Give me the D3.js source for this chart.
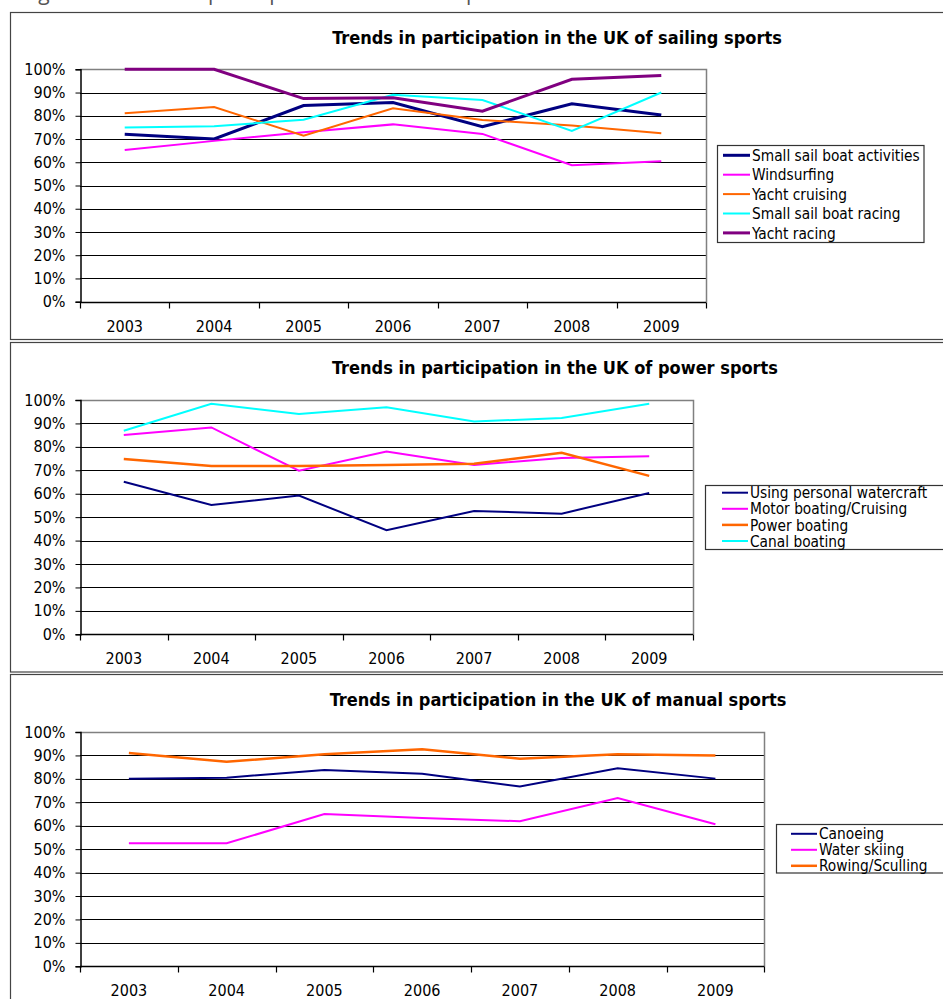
<!DOCTYPE html>
<html>
<head>
<meta charset="utf-8">
<script src="https://cdn.jsdelivr.net/npm/d3@7"></script>
<style>
  html, body { margin: 0; padding: 0; background: #fff; }
  svg { display: block; }
  text { font-family: 'DejaVu Sans Condensed', 'DejaVu Sans', sans-serif; font-stretch: condensed; fill: #000; }
</style>
</head>
<body>
<svg id="chart" width="943" height="999"></svg>
<script>
// ---------------- DATA ----------------
const years = ["2003", "2004", "2005", "2006", "2007", "2008", "2009"];
const yTickValues = [0, 10, 20, 30, 40, 50, 60, 70, 80, 90, 100];
const figureCaption = "Figure 4: Trends in participation in UK water sports 2003 - 2009";

// Sailing sports
const sailingTitle = "Trends in participation in the UK of sailing sports";
const sailingNames = ["Small sail boat activities", "Windsurfing", "Yacht cruising", "Small sail boat racing", "Yacht racing"];
const smallSailBoatActivities = [72.0, 70.0, 84.4, 85.7, 75.3, 85.2, 80.3];
const windsurfing            = [65.3, 69.2, 72.9, 76.3, 72.2, 58.7, 60.4];
const yachtCruising          = [81.1, 83.8, 71.4, 83.2, 78.2, 75.8, 72.5];
const smallSailBoatRacing    = [75.0, 75.5, 78.3, 89.0, 86.8, 73.5, 90.0];
const yachtRacing            = [100, 100, 87.4, 87.8, 82.0, 95.7, 97.3];

// Power sports
const powerTitle = "Trends in participation in the UK of power sports";
const powerNames = ["Using personal watercraft", "Motor boating/Cruising", "Power boating", "Canal boating"];
const personalWatercraft = [65.1, 55.2, 59.2, 44.4, 52.6, 51.5, 60.3];
const motorBoating       = [85.1, 88.3, 69.8, 78.0, 72.3, 75.2, 76.0];
const powerBoating       = [74.8, 71.8, 71.8, 72.3, 72.8, 77.5, 67.6];
const canalBoating       = [86.9, 98.4, 94.0, 96.9, 90.8, 92.3, 98.4];

// Manual sports
const manualTitle = "Trends in participation in the UK of manual sports";
const manualNames = ["Canoeing", "Water skiing", "Rowing/Sculling"];
const canoeing     = [80.1, 80.5, 83.8, 82.2, 76.7, 84.5, 80.1];
const waterSkiing  = [52.5, 52.5, 65.0, 63.3, 61.9, 71.8, 60.6];
const rowing       = [91.0, 87.3, 90.5, 92.6, 88.6, 90.5, 90.0];

// ---------------- STYLE / LAYOUT ----------------
const NAVY = "#000080", MAGENTA = "#FF00FF", ORANGE = "#FF6600", CYAN = "#00FFFF", PURPLE = "#800080";

const panels = [
  {
    title: sailingTitle, names: sailingNames,
    values: [smallSailBoatActivities, windsurfing, yachtCruising, smallSailBoatRacing, yachtRacing],
    colors: [NAVY, MAGENTA, ORANGE, CYAN, PURPLE],
    widths: [3, 2, 2, 2, 3],
    frame: {x: 10.5, y: 12.5, h: 327},
    plot: {x0: 80, x1: 706, top: 69.3, bottom: 301.7},
    titleX: 557, titleY: 43.5,
    legend: {x: 717.5, y: 145.5, w: 206.5, h: 97, first: 155.3, step: 19.4, lx0: 723, lx1: 750, tx: 752}
  },
  {
    title: powerTitle, names: powerNames,
    values: [personalWatercraft, motorBoating, powerBoating, canalBoating],
    colors: [NAVY, MAGENTA, ORANGE, CYAN],
    widths: [2, 2, 2.5, 2],
    frame: {x: 10.5, y: 342.5, h: 329.5},
    plot: {x0: 80, x1: 693, top: 400, bottom: 634.3},
    titleX: 555, titleY: 373.5,
    legend: {x: 705.5, y: 485.5, w: 260, h: 64, first: 492.7, step: 16.1, lx0: 722, lx1: 748, tx: 750}
  },
  {
    title: manualTitle, names: manualNames,
    values: [canoeing, waterSkiing, rowing],
    colors: [NAVY, MAGENTA, ORANGE],
    widths: [2, 2, 2.5],
    frame: {x: 10.5, y: 674.5, h: 340},
    plot: {x0: 80, x1: 764.3, top: 732, bottom: 966.3},
    titleX: 558, titleY: 706,
    legend: {x: 776.5, y: 824.5, w: 200, h: 48.5, first: 833.8, step: 16, lx0: 791, lx1: 817, tx: 819}
  }
];

const svg = d3.select("#chart");

// caption (cut off at the top edge, as in the reference)
svg.append("text")
  .attr("x", 22).attr("y", 0)
  .style("font-family", "'Open Sans', sans-serif")
  .style("font-stretch", "normal")
  .style("font-size", "21px")
  .style("fill", "#555")
  .text(figureCaption);

panels.forEach(p => {
  const g = svg.append("g");

  // outer frame
  g.append("rect")
    .attr("x", p.frame.x).attr("y", p.frame.y)
    .attr("width", 960).attr("height", p.frame.h)
    .attr("fill", "#fff").attr("stroke", "#444").attr("stroke-width", 1.2);

  const x = d3.scaleBand().domain(years).range([p.plot.x0, p.plot.x1]).padding(0);
  const y = d3.scaleLinear().domain([0, 100]).range([p.plot.bottom, p.plot.top]);

  // horizontal gridlines
  g.append("g").selectAll("line").data(yTickValues.filter(v => v > 0 && v < 100)).join("line")
    .attr("x1", p.plot.x0).attr("x2", p.plot.x1)
    .attr("y1", d => Math.round(y(d)) + 0.5).attr("y2", d => Math.round(y(d)) + 0.5)
    .attr("stroke", "#000").attr("stroke-width", 1);

  // top & right plot border (gray)
  g.append("path")
    .attr("d", `M${p.plot.x0},${Math.round(y(100)) + 0.5}H${Math.round(p.plot.x1) + 0.5}V${Math.round(y(0)) + 0.5}`)
    .attr("fill", "none").attr("stroke", "#808080").attr("stroke-width", 1.5);

  // y axis
  const yAxis = d3.axisLeft(y).tickValues(yTickValues).tickFormat(d => d + "%").tickSize(5).tickPadding(10);
  const ya = g.append("g").attr("transform", `translate(${p.plot.x0 + 0.5},0)`).call(yAxis);
  ya.select(".domain").attr("stroke", "#000").attr("stroke-width", 1.5);
  ya.selectAll(".tick line").attr("stroke", "#000");
  ya.selectAll(".tick text").style("font-size", "16px").attr("fill", "#000");

  // x axis: ticks at category boundaries, labels centred in bands
  const xa = g.append("g").attr("transform", `translate(0,${Math.round(y(0)) + 0.5})`);
  xa.append("line").attr("x1", p.plot.x0).attr("x2", p.plot.x1).attr("stroke", "#000").attr("stroke-width", 1.5);
  const boundaries = years.map(d => x(d)).concat([x(years[years.length - 1]) + x.bandwidth()]);
  xa.selectAll("line.bt").data(boundaries).join("line").attr("class", "bt")
    .attr("x1", d => Math.round(d) + 0.5).attr("x2", d => Math.round(d) + 0.5)
    .attr("y1", 0).attr("y2", 6).attr("stroke", "#000").attr("stroke-width", 1.2);
  xa.selectAll("text").data(years).join("text")
    .attr("x", d => x(d) + x.bandwidth() / 2).attr("y", 29)
    .attr("text-anchor", "middle").style("font-size", "16px")
    .text(d => d);

  // title
  g.append("text")
    .attr("x", p.titleX).attr("y", p.titleY)
    .attr("text-anchor", "middle")
    .style("font-size", "18px").style("font-weight", "bold")
    .text(p.title);

  // lines
  const line = d3.line().x((d, i) => x(years[i]) + x.bandwidth() / 2).y(d => y(d));
  p.values.forEach((vals, i) => {
    g.append("path").datum(vals)
      .attr("d", line)
      .attr("fill", "none")
      .attr("stroke", p.colors[i])
      .attr("stroke-width", p.widths[i])
      .attr("stroke-linejoin", "miter");
  });

  // legend
  const L = p.legend;
  const lg = g.append("g");
  lg.append("rect").attr("x", L.x).attr("y", L.y).attr("width", L.w).attr("height", L.h)
    .attr("fill", "#fff").attr("stroke", "#333").attr("stroke-width", 1.2);
  p.names.forEach((n, i) => {
    const cy = L.first + i * L.step;
    lg.append("line").attr("x1", L.lx0).attr("x2", L.lx1).attr("y1", cy).attr("y2", cy)
      .attr("stroke", p.colors[i]).attr("stroke-width", p.widths[i]);
    lg.append("text").attr("x", L.tx).attr("y", cy + 5.6).style("font-size", "15.3px").text(n);
  });
});
</script>
</body>
</html>
